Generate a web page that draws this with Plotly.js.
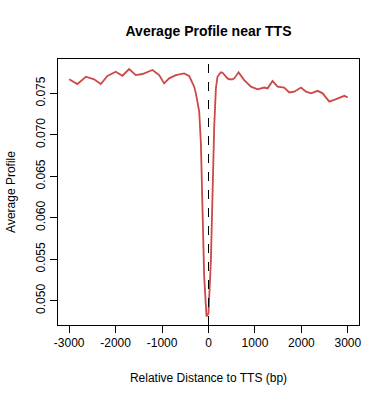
<!DOCTYPE html>
<html><head><meta charset="utf-8">
<script src="https://cdn.plot.ly/plotly-3.0.1.min.js"></script>
<style>body{margin:0;background:#fff}#c{width:390px;height:400px}</style>
</head><body><div id="c"></div>
<script>
var distance = [-3000,-2823,-2679,-2642,-2463,-2319,-2176,-1996,-1853,-1709,-1565,-1422,-1206,-1062,-955,-847,-703,-524,-416,-308,-272,-200,-164,-129,-93,-43,
  0,52,86,123,159,194,231,267,302,338,409,446,517,554,625,647,769,914,1057,1200,1272,1379,1487,1631,1739,1847,1991,2099,2207,2349,2457,2601,2746,2925,2996];
var profile = [0.07669,0.07612,0.07681,0.0770,0.07669,0.07612,0.07709,0.0776,0.07712,0.07793,0.0772,0.07733,0.07781,0.0772,0.0762,0.07681,0.0772,0.07741,0.07709,0.0758,0.0750,0.0728,0.0690,0.0609,0.0529,0.0481,
  0.0485,0.0549,0.0629,0.0710,0.0756,0.0770,0.0773,0.07753,0.07748,0.0772,0.0768,0.0767,0.07669,0.0768,0.0774,0.07753,0.0766,0.0758,0.07548,0.0757,0.0756,0.0765,0.0758,0.0757,0.0751,0.0752,0.0757,0.0752,0.0750,0.0753,0.0750,0.0740,0.0743,0.0747,0.0745];
var xTicks = [-3000,-2000,-1000,0,1000,2000,3000];
var yTicks = [0.050,0.055,0.060,0.065,0.070,0.075];
var yTickText = ["0.050","0.055","0.060","0.065","0.070","0.075"];

var font = "Liberation Sans, Arial, sans-serif";
Plotly.newPlot('c', [{
  x: distance, y: profile, type: 'scatter', mode: 'lines',
  line: {color: '#cd4848', width: 1.8, shape: 'linear'},
  hoverinfo: 'skip'
}], {
  width: 390, height: 400,
  margin: {l: 58, r: 31, t: 59, b: 75},
  paper_bgcolor: '#fff', plot_bgcolor: '#fff',
  showlegend: false,
  font: {family: font, color: '#000', size: 12},
  title: {text: '<b>Average Profile near TTS</b>', font: {family: font, size: 14, color: '#000'},
    x: 0.5, xref: 'paper', y: 1 - 31/400, yref: 'container', yanchor: 'middle'},
  xaxis: {range: [-3240, 3240], tickvals: xTicks, ticktext: xTicks.map(String),
    ticks: 'outside', ticklen: 7, tickcolor: '#000', showgrid: false, zeroline: false,
    showline: true, mirror: true, linecolor: '#000', linewidth: 1,
    tickfont: {family: font, size: 12},
    title: {text: 'Relative Distance to TTS (bp)', font: {family: font, size: 12}, standoff: 24}},
  yaxis: {range: [0.04707, 0.07914], tickvals: yTicks, ticktext: yTickText,
    ticks: 'outside', ticklen: 7, tickcolor: '#000', showgrid: false, zeroline: false,
    showline: true, mirror: true, linecolor: '#000', linewidth: 1, tickangle: -90,
    tickfont: {family: font, size: 12},
    title: {text: 'Average Profile', font: {family: font, size: 12}, standoff: 16}},
  shapes: [{type: 'line', xref: 'x', yref: 'paper', x0: 0, x1: 0, y0: 0, y1: 1,
    line: {color: '#000', width: 1, dash: 'dash'}}]
}, {staticPlot: true});
</script></body></html>
